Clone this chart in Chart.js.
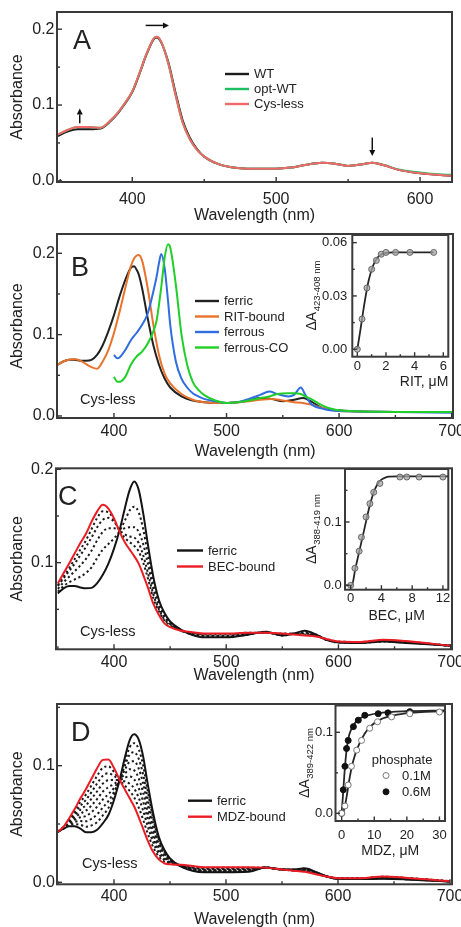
<!DOCTYPE html>
<html>
<head>
<meta charset="utf-8">
<script src="https://cdn.jsdelivr.net/npm/chart.js@4.4.1/dist/chart.umd.min.js"></script>
<style>
  html, body { margin: 0; padding: 0; background: #fff; }
  #fig { position: relative; width: 461px; height: 927px; overflow: hidden; background: #fff; }
  #fig canvas { position: absolute; }
</style>
</head>
<body>
<div id="fig">
  <canvas id="chartA"></canvas>
  <canvas id="chartB"></canvas>
  <canvas id="chartC"></canvas>
  <canvas id="chartD"></canvas>
  <canvas id="insetB"></canvas>
  <canvas id="insetC"></canvas>
  <canvas id="insetD"></canvas>
</div>
<script>
// ---------- tick positions ----------
const wlTicks = [350, 400, 450, 500, 550, 600, 650, 700];
const absTicks = [0, 0.05, 0.1, 0.15, 0.2];
const ritTicks = [0, 1, 2, 3, 4, 5, 6];
const ritDeltaTicks = [0, 0.015, 0.03, 0.045, 0.06];
const becTicks = [0, 2, 4, 6, 8, 10, 12];
const mdzTicks = [0, 5, 10, 15, 20, 25, 30];
const insetDeltaTicks = [0, 0.05, 0.1, 0.15];

// ---------- Panel A: WT / opt-WT / Cys-less ferric spectra ----------
const wlA = [348,355,362,370,378,385,390,395,400,405,410,415,417,420,425,430,435,440,445,450,460,470,480,500,510,520,532,540,550,560,567,575,585,600,610,622];
const absA_WT = [0.059,0.065,0.068,0.068,0.069,0.079,0.089,0.102,0.117,0.141,0.167,0.187,0.189,0.183,0.157,0.117,0.080,0.057,0.042,0.032,0.022,0.0175,0.016,0.016,0.0175,0.021,0.024,0.023,0.0197,0.022,0.024,0.0205,0.0145,0.010,0.0083,0.0066];
const absA_optWT = [0.061,0.067,0.071,0.071,0.070,0.080,0.090,0.103,0.118,0.142,0.168,0.188,0.190,0.184,0.155,0.114,0.077,0.055,0.041,0.032,0.022,0.0175,0.016,0.016,0.0175,0.021,0.024,0.023,0.0197,0.022,0.024,0.021,0.015,0.011,0.009,0.0079];
const absA_cysLess = [0.061,0.067,0.071,0.071,0.070,0.080,0.090,0.103,0.118,0.142,0.168,0.188,0.190,0.184,0.155,0.114,0.077,0.055,0.041,0.032,0.022,0.0175,0.016,0.016,0.0175,0.021,0.024,0.023,0.0197,0.022,0.024,0.0205,0.0145,0.010,0.0083,0.0066];
// arrows: tail (x1,y1) -> head (x2,y2), in wavelength / absorbance units
const arrowsA = [
  {x1: 363.5, y1: 0.0759, x2: 363.5, y2: 0.0955},
  {x1: 409.3, y1: 0.2050, x2: 425.5, y2: 0.2050},
  {x1: 566.8, y1: 0.0571, x2: 566.8, y2: 0.0329}
];

// ---------- Panel B: Cys-less ferric, RIT-bound, ferrous, ferrous-CO ----------
const wlB = [350,355,360,365,370,375,380,385,390,395,400,405,410,415,418,420,422,425,430,435,440,445,450,460,470,480,490,500,510,520,530,540,550,560,568,575,585,600,650,700];
const absB_ferric = [0.063,0.067,0.069,0.069,0.068,0.068,0.069,0.075,0.087,0.104,0.124,0.147,0.167,0.182,0.184,0.180,0.174,0.157,0.120,0.087,0.063,0.046,0.035,0.024,0.019,0.017,0.016,0.016,0.017,0.019,0.022,0.021,0.018,0.020,0.022,0.018,0.010,0.007,0.005,0.005];
const absB_rit = [0.063,0.067,0.069,0.070,0.068,0.064,0.060,0.058,0.067,0.081,0.102,0.128,0.157,0.184,0.194,0.197,0.198,0.191,0.157,0.112,0.075,0.052,0.040,0.027,0.020,0.017,0.016,0.016,0.017,0.018,0.020,0.021,0.019,0.017,0.016,0.014,0.010,0.006,0.005,0.005];
const wlB2 = [400,403,405,410,415,420,425,430,435,438,440,442,445,448,450,455,460,465,470,475,480,490,500,510,520,530,538,545,555,560,566,570,575,585,600,650,700];
const absB_ferrous = [0.075,0.071,0.072,0.081,0.093,0.102,0.112,0.126,0.153,0.172,0.188,0.199,0.182,0.142,0.112,0.067,0.046,0.035,0.028,0.024,0.021,0.018,0.016,0.017,0.021,0.026,0.030,0.027,0.024,0.026,0.035,0.026,0.015,0.009,0.006,0.005,0.004];
const absB_ferrousCO = [0.048,0.042,0.042,0.048,0.063,0.073,0.079,0.089,0.104,0.118,0.137,0.158,0.194,0.211,0.207,0.161,0.100,0.063,0.042,0.032,0.026,0.019,0.016,0.017,0.019,0.022,0.024,0.027,0.028,0.028,0.027,0.024,0.021,0.013,0.007,0.005,0.005];

// inset B: RIT titration
const ritConc = [0, 0.33, 0.67, 1.0, 1.33, 1.67, 2.0, 2.67, 3.67, 5.33];
const ritDeltaA = [0.0, 0.017, 0.0345, 0.045, 0.050, 0.0535, 0.0545, 0.0545, 0.0545, 0.0545];
const ritFitConc = [0, 0.2, 0.5, 0.8, 1.1, 1.4, 1.7, 2.0, 2.5, 3.0, 5.33];
const ritFitDeltaA = [0, 0.010, 0.026, 0.039, 0.047, 0.0515, 0.0535, 0.0543, 0.0545, 0.0545, 0.0545];

// ---------- Panels C and D share one wavelength grid ----------
const wlCD = [350,355,360,365,370,375,380,385,390,395,400,405,410,414,418,422,426,430,435,440,445,450,460,470,480,500,520,535,550,560,570,580,590,600,620,640,660,700];

// Panel C: BEC titration
const absC_ferric = [0.067,0.0725,0.075,0.075,0.0735,0.0725,0.073,0.078,0.087,0.099,0.115,0.135,0.160,0.178,0.187,0.178,0.153,0.121,0.085,0.060,0.046,0.037,0.028,0.0225,0.020,0.020,0.023,0.026,0.022,0.024,0.027,0.023,0.017,0.0145,0.014,0.0155,0.014,0.011];
const absC_bound = [0.078,0.0886,0.099,0.110,0.121,0.131,0.144,0.155,0.162,0.158,0.1475,0.133,0.121,0.114,0.107,0.099,0.087,0.074,0.056,0.044,0.035,0.031,0.027,0.0255,0.024,0.024,0.025,0.025,0.024,0.023,0.022,0.021,0.018,0.0155,0.015,0.0175,0.016,0.011];
const absC_step1 = [0.076,0.085,0.094,0.104,0.114,0.124,0.136,0.148,0.155,0.154,0.146,0.134,0.126,0.122,0.118,0.112,0.100,0.084,0.062,0.048,0.038,0.033,0.027,0.025,0.023,0.023,0.025,0.025,0.024,0.024,0.023,0.022,0.018,0.0155,0.015,0.017,0.0155,0.011];
const absC_step2 = [0.075,0.083,0.091,0.099,0.108,0.117,0.127,0.138,0.146,0.148,0.144,0.135,0.130,0.128,0.127,0.121,0.108,0.090,0.066,0.050,0.039,0.034,0.027,0.024,0.022,0.022,0.024,0.025,0.023,0.024,0.024,0.022,0.017,0.015,0.0145,0.0165,0.015,0.011];
const absC_step3 = [0.072,0.079,0.085,0.091,0.097,0.104,0.113,0.124,0.133,0.137,0.137,0.135,0.137,0.138,0.138,0.133,0.120,0.100,0.072,0.053,0.041,0.035,0.027,0.024,0.022,0.021,0.024,0.025,0.023,0.024,0.025,0.022,0.017,0.015,0.0145,0.016,0.015,0.011];
const absC_step4 = [0.069,0.075,0.079,0.082,0.085,0.089,0.095,0.105,0.114,0.120,0.126,0.134,0.146,0.156,0.160,0.154,0.136,0.110,0.079,0.057,0.044,0.036,0.028,0.023,0.021,0.021,0.023,0.026,0.022,0.024,0.026,0.023,0.017,0.0145,0.014,0.0155,0.0145,0.011];

// inset C: BEC titration
const becConc = [0, 0.55, 1.1, 1.4, 2.0, 2.5, 3.0, 3.8, 6.4, 7.3, 8.9, 12.0];
const becDeltaA = [0.0, 0.027, 0.054, 0.076, 0.108, 0.129, 0.147, 0.161, 0.171, 0.171, 0.171, 0.171];
const becFitConc = [-0.74, 0.15, 0.6, 1.2, 1.8, 2.4, 3.0, 3.5, 4.0, 4.5, 5.0, 6.0, 12.7];
const becFitDeltaA = [0, 0, 0.026, 0.058, 0.090, 0.122, 0.147, 0.160, 0.167, 0.170, 0.1715, 0.172, 0.172];

// Panel D: MDZ titration
const absD_ferric = [0.0434,0.046,0.048,0.048,0.046,0.043,0.043,0.045,0.0506,0.0577,0.0706,0.0877,0.108,0.122,0.127,0.1226,0.108,0.085,0.059,0.039,0.0277,0.0206,0.0134,0.010,0.0086,0.0086,0.009,0.0126,0.011,0.011,0.012,0.009,0.005,0.003,0.0028,0.003,0.0025,0.0006];
const absD_bound = [0.0434,0.0477,0.055,0.063,0.072,0.080,0.089,0.098,0.105,0.1054,0.098,0.088,0.079,0.072,0.065,0.056,0.046,0.036,0.026,0.0197,0.0163,0.0154,0.015,0.014,0.013,0.013,0.013,0.0126,0.011,0.010,0.009,0.007,0.005,0.0035,0.0035,0.005,0.004,0.001];
const absD_step1 = [0.0434,0.0462,0.0489,0.0499,0.0493,0.0476,0.0488,0.0516,0.0574,0.0637,0.074,0.0878,0.1044,0.1158,0.1193,0.1143,0.1003,0.0789,0.0549,0.0366,0.0263,0.020,0.0136,0.0105,0.0092,0.0092,0.0095,0.0126,0.011,0.0109,0.0116,0.0088,0.005,0.0031,0.0029,0.0033,0.0027,0.0007];
const absD_step2 = [0.0434,0.0464,0.0498,0.0518,0.0525,0.0523,0.0545,0.0583,0.0642,0.0696,0.0775,0.0878,0.1008,0.1095,0.1115,0.106,0.0925,0.0728,0.0508,0.0342,0.0249,0.0193,0.0138,0.011,0.0097,0.0097,0.010,0.0126,0.011,0.0108,0.0113,0.0085,0.005,0.0031,0.003,0.0035,0.0029,0.0007];
const absD_step3 = [0.0434,0.0466,0.0506,0.0536,0.0558,0.0569,0.0603,0.0649,0.071,0.0756,0.0809,0.0878,0.0971,0.1033,0.1038,0.0976,0.0848,0.0666,0.0466,0.0318,0.0234,0.0187,0.014,0.0115,0.0103,0.0103,0.0105,0.0126,0.011,0.0106,0.0109,0.0083,0.005,0.0032,0.0031,0.0038,0.0031,0.0008];
const absD_step4 = [0.0434,0.0469,0.0515,0.0555,0.059,0.0615,0.066,0.0715,0.0778,0.0816,0.0843,0.0878,0.0935,0.097,0.096,0.0893,0.077,0.0605,0.0425,0.0294,0.022,0.018,0.0142,0.012,0.0108,0.0108,0.011,0.0126,0.011,0.0105,0.0105,0.008,0.005,0.0033,0.0032,0.004,0.0033,0.0008];
const absD_step5 = [0.0434,0.0471,0.0524,0.0574,0.0623,0.0661,0.0718,0.0781,0.0846,0.0875,0.0877,0.0878,0.0899,0.0908,0.0883,0.081,0.0693,0.0544,0.0384,0.0269,0.0206,0.0174,0.0144,0.0125,0.0114,0.0114,0.0115,0.0126,0.011,0.0104,0.0101,0.0078,0.005,0.0033,0.0032,0.0043,0.0034,0.0009];
const absD_step6 = [0.0434,0.0473,0.0533,0.0593,0.0655,0.0708,0.0775,0.0848,0.0914,0.0935,0.0912,0.0878,0.0863,0.0845,0.0805,0.0726,0.0615,0.0483,0.0343,0.0245,0.0192,0.0167,0.0146,0.013,0.0119,0.0119,0.012,0.0126,0.011,0.0103,0.0098,0.0075,0.005,0.0034,0.0033,0.0045,0.0036,0.0009];
const absD_step7 = [0.0434,0.0475,0.0541,0.0611,0.0688,0.0754,0.0833,0.0914,0.0982,0.0994,0.0946,0.0878,0.0826,0.0783,0.0728,0.0643,0.0538,0.0421,0.0301,0.0221,0.0177,0.0161,0.0148,0.0135,0.0125,0.0125,0.0125,0.0126,0.011,0.0101,0.0094,0.0073,0.005,0.0034,0.0034,0.0048,0.0038,0.001];

// inset D: MDZ titration in 0.1 M and 0.6 M phosphate
const mdzConc01 = [0, 1.0, 2.0, 3.0, 4.6, 6.1, 8.6, 11.0, 15.3, 20.9, 30.0];
const mdzDeltaA01 = [0, 0.009, 0.035, 0.058, 0.078, 0.090, 0.105, 0.113, 0.119, 0.123, 0.125];
const mdzConc06 = [0, 0.5, 1.0, 1.5, 2.0, 3.6, 5.1, 7.1, 11.2, 14.2, 20.9];
const mdzDeltaA06 = [0, 0.029, 0.058, 0.080, 0.090, 0.107, 0.115, 0.121, 0.123, 0.124, 0.1255];
const mdzFitConc01 = [0, 0.8, 1.5, 2.5, 3.5, 5.0, 7.0, 9.0, 12.0, 16.0, 21.0, 30.0, 31.7];
const mdzFitDeltaA01 = [0, 0.005, 0.020, 0.045, 0.064, 0.082, 0.098, 0.108, 0.116, 0.121, 0.124, 0.126, 0.126];
const mdzFitConc06 = [0, 0.4, 0.8, 1.2, 1.6, 2.2, 3.0, 4.0, 5.5, 8.0, 12.0, 20.0, 31.7];
const mdzFitDeltaA06 = [0, 0.022, 0.046, 0.066, 0.081, 0.095, 0.104, 0.111, 0.117, 0.121, 0.124, 0.126, 0.127];

// ---------- drawing helpers ----------
const FONT = "'Liberation Sans', Arial, Helvetica, sans-serif";
const INK = '#222';
Chart.defaults.font.family = FONT;
Chart.defaults.color = INK;

const pts = (xs, ys) => xs.map((x, i) => ({x, y: ys[i]}));
function spectrum(label, xs, ys, color, extra) {
  return Object.assign({
    label, data: pts(xs, ys), borderColor: color, backgroundColor: color,
    borderWidth: 2, pointRadius: 0, cubicInterpolationMode: 'monotone', fill: false
  }, extra || {});
}
const dotted = (xs, ys) => spectrum('', xs, ys, '#1a1a1a', {borderDash: [2.2, 2.8], borderWidth: 2});

const isMult = (v, m) => Math.abs(v / m - Math.round(v / m)) < 1e-6;

// frame, inward ticks, tick labels, free text, legends and arrows
const decor = {
  id: 'decor',
  beforeDatasetsDraw(chart, args, o) {
    if (!o.whiteArea) return;
    const {ctx, chartArea: a} = chart;
    ctx.save(); ctx.fillStyle = '#fff'; ctx.fillRect(a.left, a.top, a.width, a.height); ctx.restore();
  },
  afterDatasetsDraw(chart, args, o) {
    const {ctx, chartArea: a, scales} = chart;
    const ox = o.ox || 0, oy = o.oy || 0;
    ctx.save();
    // tick marks pointing into the plot
    ctx.strokeStyle = '#333'; ctx.lineWidth = 1.4;
    ['x', 'y'].forEach(id => {
      const s = scales[id];
      s.ticks.forEach(t => {
        const major = t.label !== '' && t.label != null;
        const len = major ? o.majorLen : o.minorLen;
        const p = s.getPixelForValue(t.value);
        ctx.beginPath();
        if (id === 'x') {
          if (p < a.left - 0.5 || p > a.right + 0.5) return;
          ctx.moveTo(p, a.bottom); ctx.lineTo(p, a.bottom - len);
        } else {
          if (p < a.top - 0.5 || p > a.bottom + 0.5) return;
          ctx.moveTo(a.left, p); ctx.lineTo(a.left + len, p);
        }
        ctx.stroke();
      });
    });
    // frame
    ctx.lineWidth = 2; ctx.strokeStyle = '#3a3a3a';
    ctx.strokeRect(a.left, a.top, a.width, a.height);

    // tick labels
    ctx.fillStyle = INK; ctx.textBaseline = 'middle';
    ctx.font = o.tickSize + 'px ' + FONT;
    ctx.textAlign = 'center';
    scales.x.ticks.forEach(t => {
      if (!t.label) return;
      ctx.fillText(t.label, scales.x.getPixelForValue(t.value), o.xLabelY - oy);
    });
    ctx.textAlign = 'right';
    scales.y.ticks.forEach(t => {
      if (!t.label) return;
      ctx.fillText(t.label, a.left - o.yLabelGap, scales.y.getPixelForValue(t.value));
    });

    // arrows
    (o.arrows || []).forEach(ar => {
      const x1 = scales.x.getPixelForValue(ar.x1), y1 = scales.y.getPixelForValue(ar.y1);
      const x2 = scales.x.getPixelForValue(ar.x2), y2 = scales.y.getPixelForValue(ar.y2);
      const ang = Math.atan2(y2 - y1, x2 - x1), hl = 6, hw = 3;
      ctx.strokeStyle = '#111'; ctx.fillStyle = '#111'; ctx.lineWidth = 1.5;
      ctx.beginPath(); ctx.moveTo(x1, y1);
      ctx.lineTo(x2 - hl * Math.cos(ang), y2 - hl * Math.sin(ang)); ctx.stroke();
      ctx.beginPath(); ctx.moveTo(x2, y2);
      ctx.lineTo(x2 - hl * Math.cos(ang) - hw * Math.sin(ang), y2 - hl * Math.sin(ang) + hw * Math.cos(ang));
      ctx.lineTo(x2 - hl * Math.cos(ang) + hw * Math.sin(ang), y2 - hl * Math.sin(ang) - hw * Math.cos(ang));
      ctx.closePath(); ctx.fill();
    });

    // free text (panel letter, sample name)
    ctx.fillStyle = INK; ctx.textBaseline = 'middle';
    (o.texts || []).forEach(t => {
      ctx.font = t.size + 'px ' + FONT; ctx.textAlign = t.align || 'left';
      ctx.fillText(t.text, t.x - ox, t.y - oy);
    });

    // line legend built from the datasets
    if (o.legend) {
      const L = o.legend;
      ctx.font = L.size + 'px ' + FONT; ctx.textAlign = 'left';
      L.items.forEach((di, k) => {
        const ds = chart.data.datasets[di];
        const y = L.y + k * L.dy - oy, x = L.x - ox;
        ctx.strokeStyle = ds.borderColor; ctx.lineWidth = 2.4; ctx.setLineDash([]);
        ctx.beginPath(); ctx.moveTo(x, y); ctx.lineTo(x + L.len, y); ctx.stroke();
        ctx.fillStyle = INK; ctx.fillText(ds.label, x + L.len + L.gap, y + 0.5);
      });
    }

    // marker legend built from the datasets
    if (o.markLegend) {
      const M = o.markLegend;
      ctx.font = M.size + 'px ' + FONT; ctx.textAlign = 'left'; ctx.fillStyle = INK;
      ctx.fillText(M.title, M.titleX - ox, M.titleY - oy);
      M.items.forEach((di, k) => {
        const ds = chart.data.datasets[di];
        const y = M.y + k * M.dy - oy;
        ctx.beginPath(); ctx.arc(M.x - ox, y, ds.pointRadius, 0, Math.PI * 2);
        ctx.fillStyle = ds.pointBackgroundColor; ctx.fill();
        ctx.strokeStyle = ds.pointBorderColor; ctx.lineWidth = 1; ctx.stroke();
        ctx.fillStyle = INK; ctx.fillText(ds.label, M.textX - ox, y + 0.5);
      });
    }

    // rotated ΔA axis title with subscript
    if (o.yTitle) {
      const T = o.yTitle;
      const cx = T.x - ox, cy = (a.top + a.bottom) / 2;
      ctx.save(); ctx.translate(cx, cy); ctx.rotate(-Math.PI / 2);
      ctx.textBaseline = 'alphabetic'; ctx.textAlign = 'left'; ctx.fillStyle = INK;
      ctx.font = T.size + 'px ' + FONT; const w1 = ctx.measureText(T.main).width;
      ctx.font = T.subSize + 'px ' + FONT; const w2 = ctx.measureText(T.sub).width;
      const start = -(w1 + w2) / 2;
      ctx.font = T.size + 'px ' + FONT; ctx.fillText(T.main, start, 5);
      ctx.font = T.subSize + 'px ' + FONT; ctx.fillText(T.sub, start + w1 + 0.5, 8.5);
      ctx.restore();
    }
    ctx.restore();
  }
};

function axis(c, which) {
  const isX = which === 'x';
  const lo = isX ? c.xMin : c.yMin, hi = isX ? c.xMax : c.yMax;
  const tickValues = isX ? c.xTicks : c.yTicks;
  const s = {
    type: 'linear', min: lo, max: hi,
    grid: {display: false}, border: {display: false},
    ticks: {display: false, autoSkip: false, maxRotation: 0, font: {size: c.tickSize},
            callback: isX ? c.xLabel : c.yLabel},
    // fixed tick positions taken from the tick arrays
    afterBuildTicks: sc => {
      sc.ticks = tickValues.filter(v => v >= lo && v <= hi).map(v => ({value: v}));
    },
    title: {
      display: true, text: isX ? c.xTitle : (c.yTitle || ''), color: INK,
      font: {size: c.titleSize}, align: isX ? (c.xTitleAlign || 'center') : 'center',
      padding: isX ? {top: 0, bottom: c.xTitlePad} : {top: c.yTitlePad || 0, bottom: 0}
    }
  };
  if (!isX && !c.yTitle) s.title.display = false;
  if (isX) s.afterFit = sc => { sc.height = c.xH; sc.paddingLeft = 0; sc.paddingRight = 0; };
  else s.afterFit = sc => { sc.width = c.yW; sc.paddingTop = 0; sc.paddingBottom = 0; };
  return s;
}

function makeChart(id, c, datasets, deco) {
  const cv = document.getElementById(id);
  cv.width = c.w; cv.height = c.h;
  cv.style.left = c.left + 'px'; cv.style.top = c.top + 'px';
  return new Chart(cv, {
    type: 'line',
    data: {datasets},
    options: {
      responsive: false, animation: false, events: [], devicePixelRatio: 1,
      layout: {padding: {left: 0, top: c.padTop, right: c.padRight, bottom: 0}},
      plugins: {
        legend: {display: false}, tooltip: {enabled: false},
        decor: Object.assign({
          ox: c.left, oy: c.top, majorLen: c.majorLen || 5, minorLen: c.minorLen || 3,
          tickSize: c.tickSize, xLabelY: c.xLabelY, yLabelGap: c.yLabelGap
        }, deco)
      },
      scales: {x: axis(c, 'x'), y: axis(c, 'y')}
    },
    plugins: [decor]
  });
}

const wlLabel = v => isMult(v, 100) ? String(v) : '';
const absLabel = v => isMult(v, 0.1) ? v.toFixed(1) : '';
const mainAxes = {
  tickSize: 16, titleSize: 16, xTicks: wlTicks, yTicks: absTicks, xLabel: wlLabel, yLabel: absLabel,
  xTitle: 'Wavelength (nm)', yTitle: 'Absorbance', yTitlePad: 8.4, yLabelGap: 2.5, yW: 57
};

// ---------- Panel A (datasets listed top-most first) ----------
makeChart('chartA', Object.assign({}, mainAxes, {
  left: 0, top: 0, w: 461, h: 228, padTop: 12, padRight: 9, xH: 46,
  xMin: 347.7, xMax: 622.2, yMin: -0.0015, yMax: 0.2227, xLabelY: 200, xTitlePad: 2.4
}), [
  spectrum('Cys-less', wlA, absA_cysLess, '#f26868'),
  spectrum('opt-WT', wlA, absA_optWT, '#1cc060'),
  spectrum('WT', wlA, absA_WT, '#1c1c1c')
], {
  arrows: arrowsA,
  texts: [{text: 'A', x: 73, y: 42, size: 27}],
  legend: {x: 225, y: 74, dy: 15, len: 24, gap: 5, size: 13, items: [2, 1, 0]}
});

// ---------- Panel B ----------
makeChart('chartB', Object.assign({}, mainAxes, {
  left: 0, top: 220, w: 461, h: 242, padTop: 14, padRight: 8, xH: 44,
  xMin: 349.4, xMax: 701.2, yMin: -0.0025, yMax: 0.2237, xLabelY: 431.7, xTitlePad: 0.4, yLabelGap: 2
}), [
  spectrum('ferrous-CO', wlB2, absB_ferrousCO, '#20cf28'),
  spectrum('ferrous', wlB2, absB_ferrous, '#2f6de0'),
  spectrum('RIT-bound', wlB, absB_rit, '#e8732c'),
  spectrum('ferric', wlB, absB_ferric, '#222222')
], {
  texts: [{text: 'B', x: 71, y: 269, size: 27}, {text: 'Cys-less', x: 80, y: 400, size: 14.5}],
  legend: {x: 195, y: 301, dy: 15.5, len: 24, gap: 5, size: 13, items: [3, 2, 1, 0]}
});

// ---------- Panel C ----------
makeChart('chartC', Object.assign({}, mainAxes, {
  left: 0, top: 455, w: 461, h: 232, padTop: 13.3, padRight: 9, xH: 37.7, yW: 56,
  xMin: 348.3, xMax: 701.2, yMin: 0.0072, yMax: 0.2011, xLabelY: 662.5, xTitlePad: 1.9, yLabelGap: 2.7
}), [
  spectrum('BEC-bound', wlCD, absC_bound, '#ec1c24'),
  spectrum('ferric', wlCD, absC_ferric, '#141414'),
  dotted(wlCD, absC_step1), dotted(wlCD, absC_step2), dotted(wlCD, absC_step3), dotted(wlCD, absC_step4)
], {
  texts: [{text: 'C', x: 58, y: 498, size: 27}, {text: 'Cys-less', x: 80, y: 632, size: 14.5}],
  legend: {x: 177, y: 550.5, dy: 16, len: 26, gap: 5, size: 13, items: [1, 0]}
});

// ---------- Panel D ----------
makeChart('chartD', Object.assign({}, mainAxes, {
  left: 0, top: 690, w: 461, h: 239, padTop: 14, padRight: 9, xH: 44.7,
  xMin: 349.1, xMax: 701.8, yMin: -0.0017, yMax: 0.1529, xLabelY: 896.7, xTitlePad: 0, yLabelGap: 2
}), [
  spectrum('MDZ-bound', wlCD, absD_bound, '#ec1c24'),
  spectrum('ferric', wlCD, absD_ferric, '#141414'),
  dotted(wlCD, absD_step1), dotted(wlCD, absD_step2), dotted(wlCD, absD_step3), dotted(wlCD, absD_step4),
  dotted(wlCD, absD_step5), dotted(wlCD, absD_step6), dotted(wlCD, absD_step7)
], {
  texts: [{text: 'D', x: 71, y: 734, size: 27}, {text: 'Cys-less', x: 82, y: 864, size: 14.5}],
  legend: {x: 188, y: 800.7, dy: 16, len: 24, gap: 5, size: 13, items: [1, 0]}
});

// ---------- insets (points listed before their fitted curves) ----------
const grayPts = (label, xs, ys) => ({
  label, data: pts(xs, ys), showLine: false, pointRadius: 3, pointBorderWidth: 1,
  pointBorderColor: '#666', pointBackgroundColor: 'rgba(165,165,165,0.75)',
  borderColor: '#666', backgroundColor: 'rgba(165,165,165,0.75)'
});
const fitLine = (xs, ys) => ({
  label: '', data: pts(xs, ys), borderColor: '#262626', borderWidth: 1.8, pointRadius: 0,
  cubicInterpolationMode: 'monotone', fill: false
});
const insetAxes = {tickSize: 13, titleSize: 14, majorLen: 4.5, minorLen: 2.5};

makeChart('insetB', Object.assign({}, insetAxes, {
  left: 290, top: 225, w: 171, h: 170, padTop: 10, padRight: 12.7, yW: 62.3, xH: 38.3,
  xMin: -0.35, xMax: 6.35, yMin: -0.0042, yMax: 0.0643, xTicks: ritTicks, yTicks: ritDeltaTicks,
  xLabel: v => isMult(v, 2) ? String(v) : '', yLabel: v => isMult(v, 0.03) ? v.toFixed(2) : '',
  xLabelY: 366.7, yLabelGap: 5, xTitle: 'RIT, μM', xTitleAlign: 'end', xTitlePad: 4.9
}), [
  grayPts('RIT', ritConc, ritDeltaA),
  fitLine(ritFitConc, ritFitDeltaA)
], {
  whiteArea: true,
  yTitle: {x: 311, main: 'ΔA', sub: '423-408 nm', size: 14, subSize: 9.5}
});

makeChart('insetC', Object.assign({}, insetAxes, {
  left: 280, top: 460, w: 181, h: 180, padTop: 9, padRight: 12.7, yW: 65, xH: 50.3,
  xMin: -0.74, xMax: 12.7, yMin: -0.0069, yMax: 0.1837, xTicks: becTicks, yTicks: insetDeltaTicks,
  xLabel: v => isMult(v, 4) ? String(v) : '', yLabel: absLabel,
  xLabelY: 598.7, yLabelGap: 3.3, xTitle: 'BEC, μM', xTitlePad: 15.6
}), [
  grayPts('BEC', becConc, becDeltaA),
  fitLine(becFitConc, becFitDeltaA)
], {
  whiteArea: true,
  yTitle: {x: 311, main: 'ΔA', sub: '388-419 nm', size: 14, subSize: 9.5}
});

makeChart('insetD', Object.assign({}, insetAxes, {
  left: 270, top: 695, w: 191, h: 170, padTop: 10.5, padRight: 16, yW: 65.5, xH: 44,
  xMin: -1.89, xMax: 31.7, yMin: -0.0095, yMax: 0.1331, xTicks: mdzTicks, yTicks: insetDeltaTicks,
  xLabel: v => isMult(v, 10) ? String(v) : '', yLabel: absLabel,
  xLabelY: 835, yLabelGap: 2.5, xTitle: 'MDZ, μM', xTitlePad: 5.9
}), [
  {label: '0.1M', data: pts(mdzConc01, mdzDeltaA01), showLine: false, pointRadius: 3, pointBorderWidth: 1,
   pointBorderColor: '#777', pointBackgroundColor: '#fff', borderColor: '#777', backgroundColor: '#fff'},
  {label: '0.6M', data: pts(mdzConc06, mdzDeltaA06), showLine: false, pointRadius: 3, pointBorderWidth: 1,
   pointBorderColor: '#111', pointBackgroundColor: '#111', borderColor: '#111', backgroundColor: '#111'},
  fitLine(mdzFitConc01, mdzFitDeltaA01),
  fitLine(mdzFitConc06, mdzFitDeltaA06)
], {
  whiteArea: true,
  yTitle: {x: 304, main: 'ΔA', sub: '389-422 nm', size: 14, subSize: 9.5},
  markLegend: {title: 'phosphate', titleX: 371.7, titleY: 760, x: 386, textX: 402, y: 775.5, dy: 16.3, size: 13, items: [0, 1]}
});
</script>
</body>
</html>
